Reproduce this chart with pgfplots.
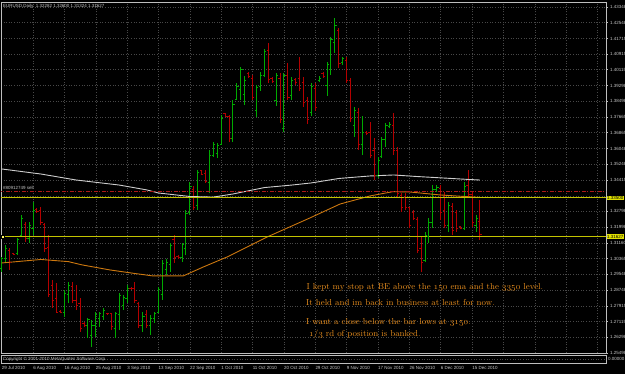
\documentclass[border=0pt]{standalone}
\usepackage{pgfplots}
\usepackage{pgfplotstable}
\pgfplotsset{compat=1.18}
\usepackage{fontspec}
\newfontfamily\mtfont{Liberation Sans}
\definecolor{bull}{RGB}{0,170,0}
\definecolor{bear}{RGB}{180,0,0}
\definecolor{gridc}{RGB}{72,72,72}
\definecolor{axc}{RGB}{190,190,190}
\definecolor{lbl}{RGB}{200,200,200}
\definecolor{emaw}{RGB}{205,205,205}
\definecolor{emao}{RGB}{205,120,15}
\definecolor{hyel}{RGB}{195,195,0}
\definecolor{ybox}{RGB}{225,225,0}
\definecolor{sellc}{RGB}{170,25,25}
\definecolor{annot}{RGB}{232,142,30}
\newcommand{\lblfont}{\mtfont\fontsize{4.5}{5}\selectfont}
\newcommand{\annfont}{\fontsize{8.7}{10}\selectfont}
\newcommand{\osn}[1]{{\usefont{OML}{cmm}{m}{it}#1}}
\pgfdeclareplotmark{otick}{\pgfpathmoveto{\pgfqpoint{-1.7bp}{0pt}}\pgfpathlineto{\pgfqpoint{0pt}{0pt}}\pgfusepathqstroke}
\pgfdeclareplotmark{ctick}{\pgfpathmoveto{\pgfqpoint{0pt}{0pt}}\pgfpathlineto{\pgfqpoint{1.7bp}{0pt}}\pgfusepathqstroke}

\pgfplotstableread{
i o h l c
0 1.2988 1.3045 1.2967 1.3035
1 1.3035 1.3107 1.3019 1.3091
4 1.3065 1.3143 1.3055 1.3133
5 1.3158 1.3262 1.3148 1.3246
7 1.3143 1.3225 1.3117 1.3210
8 1.3194 1.3329 1.3158 1.3287
16 1.2761 1.2875 1.2735 1.2859
17 1.2854 1.2916 1.2807 1.2900
22 1.2689 1.2730 1.2627 1.2720
23 1.2642 1.2720 1.2580 1.2694
24 1.2694 1.2761 1.2632 1.2746
25 1.2730 1.2761 1.2684 1.2751
26 1.2740 1.2782 1.2720 1.2771
29 1.2678 1.2761 1.2627 1.2751
30 1.2746 1.2859 1.2668 1.2844
31 1.2797 1.2849 1.2771 1.2838
32 1.2833 1.2900 1.2807 1.2885
36 1.2689 1.2761 1.2658 1.2740
38 1.2689 1.2746 1.2642 1.2730
39 1.2730 1.2761 1.2704 1.2751
40 1.2761 1.2890 1.2756 1.2875
41 1.2849 1.3029 1.2823 1.3009
42 1.2978 1.3035 1.2952 1.3019
43 1.3004 1.3117 1.2967 1.3102
46 1.3040 1.3117 1.3019 1.3107
47 1.3091 1.3287 1.3055 1.3272
48 1.3277 1.3432 1.3262 1.3411
50 1.3313 1.3494 1.3287 1.3483
53 1.3432 1.3597 1.3375 1.3571
54 1.3571 1.3638 1.3561 1.3623
55 1.3581 1.3633 1.3556 1.3618
56 1.3628 1.3778 1.3623 1.3762
59 1.3659 1.3855 1.3638 1.3834
60 1.3860 1.3943 1.3855 1.3927
61 1.3907 1.4025 1.3855 1.4010
62 1.3881 1.3979 1.3829 1.3958
65 1.3803 1.3932 1.3767 1.3922
66 1.3927 1.3999 1.3902 1.3984
67 1.3984 1.4118 1.3974 1.4103
70 1.3855 1.3994 1.3824 1.3979
72 1.3710 1.3994 1.3690 1.3979
74 1.3876 1.3974 1.3855 1.3958
79 1.3793 1.3943 1.3772 1.3927
81 1.3958 1.3979 1.3948 1.3968
83 1.3932 1.4051 1.3876 1.4036
84 1.4010 1.4180 1.3984 1.4165
85 1.4154 1.4278 1.4097 1.4242
87 1.4051 1.4077 1.4036 1.4067
90 1.3726 1.3819 1.3664 1.3803
92 1.3623 1.3772 1.3571 1.3690
96 1.3468 1.3561 1.3452 1.3545
97 1.3566 1.3664 1.3556 1.3649
98 1.3649 1.3736 1.3612 1.3721
99 1.3716 1.3741 1.3710 1.3731
108 1.3029 1.3174 1.3019 1.3158
109 1.3153 1.3246 1.3117 1.3225
110 1.3225 1.3416 1.3194 1.3391
111 1.3391 1.3416 1.3380 1.3406
114 1.3210 1.3329 1.3174 1.3313
118 1.3194 1.3432 1.3184 1.3411
121 1.3210 1.3262 1.3174 1.3246
}\bulltab

\pgfplotstableread{
i o h l c
2 1.3081 1.3091 1.2978 1.3019
3 1.3065 1.3067 1.3055 1.3060
6 1.3215 1.3225 1.3122 1.3143
9 1.3292 1.3298 1.3272 1.3282
10 1.3287 1.3303 1.3210 1.3225
11 1.3215 1.3220 1.3071 1.3091
12 1.3096 1.3158 1.2838 1.2849
13 1.2900 1.2926 1.2782 1.2823
14 1.2833 1.2911 1.2756 1.2761
15 1.2766 1.2771 1.2756 1.2761
18 1.2895 1.2916 1.2807 1.2823
19 1.2823 1.2900 1.2771 1.2797
20 1.2807 1.2833 1.2658 1.2678
21 1.2704 1.2709 1.2684 1.2694
27 1.2755 1.2758 1.2746 1.2751
28 1.2751 1.2756 1.2668 1.2684
33 1.2885 1.2890 1.2875 1.2880
34 1.2880 1.2916 1.2807 1.2823
35 1.2807 1.2813 1.2678 1.2694
37 1.2746 1.2771 1.2678 1.2694
44 1.3133 1.3158 1.3014 1.3040
45 1.3050 1.3055 1.3035 1.3040
49 1.3391 1.3411 1.3287 1.3298
51 1.3489 1.3494 1.3468 1.3473
52 1.3478 1.3494 1.3427 1.3437
57 1.3783 1.3788 1.3767 1.3772
58 1.3772 1.3778 1.3638 1.3659
63 1.3994 1.3999 1.3968 1.3974
64 1.3968 1.3984 1.3855 1.3870
68 1.4113 1.4149 1.3943 1.3963
69 1.3968 1.3974 1.3943 1.3953
71 1.3968 1.3994 1.3736 1.3752
73 1.3984 1.4046 1.3855 1.3870
75 1.3963 1.3968 1.3932 1.3943
76 1.3968 1.4077 1.3901 1.3917
77 1.3948 1.3974 1.3819 1.3840
78 1.3855 1.3870 1.3731 1.3752
80 1.3917 1.3943 1.3798 1.3819
82 1.3994 1.3999 1.3968 1.3974
86 1.4216 1.4226 1.4020 1.4046
88 1.4061 1.4077 1.3943 1.3958
89 1.3958 1.3968 1.3741 1.3762
91 1.3793 1.3814 1.3597 1.3623
93 1.3690 1.3693 1.3674 1.3680
94 1.3690 1.3741 1.3556 1.3571
95 1.3597 1.3659 1.3442 1.3463
100 1.3726 1.3788 1.3571 1.3597
101 1.3597 1.3612 1.3354 1.3375
102 1.3360 1.3375 1.3277 1.3298
103 1.3354 1.3375 1.3287 1.3303
104 1.3298 1.3303 1.3194 1.3210
105 1.3277 1.3287 1.3236 1.3246
106 1.3236 1.3251 1.3065 1.3081
107 1.3091 1.3148 1.2967 1.3019
112 1.3401 1.3416 1.3236 1.3277
113 1.3287 1.3380 1.3194 1.3210
115 1.3308 1.3324 1.3158 1.3184
116 1.3277 1.3287 1.3174 1.3194
117 1.3200 1.3205 1.3189 1.3194
119 1.3416 1.3494 1.3354 1.3365
120 1.3365 1.3380 1.3200 1.3225
122 1.3228 1.3339 1.3132 1.3163
}\beartab

\begin{document}
\begin{tikzpicture}
\fill[black] (0,0) rectangle (625bp,374bp);
\useasboundingbox (0,0) rectangle (625bp,374bp);

\begin{axis}[
  at={(1bp,21bp)}, anchor=south west, scale only axis,
  width=605bp, height=351bp,
  xmin=-0.18, xmax=154.16, ymin=1.25494, ymax=1.43606,
  axis background/.style={fill=black},
  axis line style={axc, line width=0.6bp},
  xtick={0,8,...,152}, xticklabels={}, xtick style={draw=none},
  ytick={1.25498,1.26298,1.27115,1.27915,1.28748,1.29548,1.30365,1.31160,1.31998,1.32798,1.33598,1.34415,1.35248,1.36048,1.36865,1.37665,1.38498,1.39298,1.40115,1.40915,1.41715,1.42548,1.43348},
  yticklabels={1.25498,1.26298,1.27115,1.27915,1.28748,1.29548,1.30365,1.31160,1.31998,1.32798,,1.34415,1.35248,1.36048,1.36865,1.37665,1.38498,1.39298,1.40115,1.40915,1.41715,1.42548,1.43348},
  ytick pos=right, yticklabel pos=right,
  ytick style={axc, line width=0.5bp}, tick align=outside, major tick length=2bp,
  yticklabel style={font=\lblfont, text=lbl, anchor=west, inner sep=0pt, xshift=2bp},
  grid=major, grid style={gridc, line width=0.5bp, dash pattern=on 1bp off 1.6bp},
]
% high-low lines
\addplot[draw=none, mark=none, forget plot, error bars/.cd, y dir=plus, y explicit, error mark=none, error bar style={draw=bull, line width=1bp}]
  table[x=i, y=l, y error expr=\thisrow{h}-\thisrow{l}] {\bulltab};
\addplot[draw=none, mark=none, forget plot, error bars/.cd, y dir=plus, y explicit, error mark=none, error bar style={draw=bear, line width=1bp}]
  table[x=i, y=l, y error expr=\thisrow{h}-\thisrow{l}] {\beartab};
% open/close ticks
\addplot[only marks, mark=otick, bull, mark options={line width=0.9bp}] table[x=i, y=o] {\bulltab};
\addplot[only marks, mark=ctick, bull, mark options={line width=0.9bp}] table[x=i, y=c] {\bulltab};
\addplot[only marks, mark=otick, bear, mark options={line width=0.9bp}] table[x=i, y=o] {\beartab};
\addplot[only marks, mark=ctick, bear, mark options={line width=0.9bp}] table[x=i, y=c] {\beartab};
% moving averages
\addplot[emaw, line width=0.9bp] coordinates {(0,1.3499) (10,1.3473) (19,1.3442) (30,1.3416) (37,1.3391) (40,1.3375) (48,1.3357) (54,1.3354) (59,1.3370) (67,1.3403) (74,1.3416) (79,1.3427) (86,1.3450) (94,1.3463) (100,1.3468) (106,1.3460) (113,1.3452) (119,1.3445) (122,1.3442)};
\addplot[emao, line width=0.9bp] coordinates {(0,1.3014) (10,1.3032) (17,1.3021) (20.5,1.3004) (27.6,1.2978) (33.5,1.2961) (38.6,1.2947) (46.3,1.2947) (51.4,1.2993) (57.5,1.3045) (67.7,1.3148) (78.6,1.3246) (86.3,1.3318) (94,1.3360) (99.8,1.3382) (104.2,1.3380) (111.8,1.3365) (122,1.3352)};
% horizontal levels
\addplot[sellc, line width=0.7bp, dash pattern=on 4bp off 1.5bp on 1bp off 1.5bp] coordinates {(-1,1.3382) (160,1.3382)};
\addplot[hyel, line width=0.8bp] coordinates {(-1,1.3350) (160,1.3350)};
\addplot[hyel, line width=0.8bp] coordinates {(-1,1.3150) (160,1.3150)};
\addplot[only marks, mark=square*, mark size=1.3bp, mark options={fill=yellow!60!white, draw=none}] coordinates {(0.3,1.3150)};
\end{axis}

\begin{axis}[
  at={(1bp,11bp)}, anchor=south west, scale only axis,
  width=605bp, height=8bp,
  xmin=-0.18, xmax=154.16, ymin=-1, ymax=1,
  axis background/.style={fill=black},
  axis line style={axc, line width=0.6bp},
  ytick=\empty,
  xtick={0,8,...,120},
  xticklabels={29 Jul 2010,6 Aug 2010,16 Aug 2010,25 Aug 2010,3 Sep 2010,13 Sep 2010,22 Sep 2010,1 Oct 2010,11 Oct 2010,20 Oct 2010,29 Oct 2010,9 Nov 2010,17 Nov 2010,26 Nov 2010,6 Dec 2010,15 Dec 2010},
  xtick pos=bottom, tick align=outside, major tick length=1.5bp,
  xtick style={axc, line width=0.5bp},
  xticklabel style={font=\lblfont, text=lbl, anchor=north west, inner sep=0pt, yshift=-1.5bp},
]
\addplot[gridc, line width=0.5bp, dash pattern=on 1bp off 1.6bp] coordinates {(-1,0) (160,0)};
\end{axis}

% texts
\node[anchor=west, inner sep=0pt, font=\lblfont, text=lbl] at (3bp,368bp) {EURUSD,Daily\ \ 1.32282 1.32600 1.31324 1.31627};
\node[anchor=west, inner sep=0pt, font=\lblfont, text=lbl] at (3bp,186.5bp) {\#80912749 sell};
\node[anchor=west, inner sep=0.5bp, fill=ybox, font=\lblfont, text=black] at (606.5bp,176bp) {1.33500};
\node[anchor=west, inner sep=0.5bp, fill=ybox, font=\lblfont, text=black] at (606.5bp,137.5bp) {1.31627};
\node[anchor=west, inner sep=0pt, font=\lblfont, text=lbl] at (3bp,15bp) {Copyright \copyright{} 2001-2010 MetaQuotes Software Corp.};
\node[anchor=west, inner sep=0pt, font=\lblfont, text=lbl] at (608bp,15bp) {0.00000};

\node[anchor=base west, inner sep=0pt, text=annot, font=\annfont] at (306.5bp,84.7bp) {I kept my stop at BE above the \osn{150} ema and the \osn{3350} level.};
\node[anchor=base west, inner sep=0pt, text=annot, font=\annfont] at (306bp,68bp) {It held and im back in business at least for now.};
\node[anchor=base west, inner sep=0pt, text=annot, font=\annfont] at (306bp,49bp) {I want a close below the bar lows at \osn{3150}.};
\node[anchor=base west, inner sep=0pt, text=annot, font=\annfont] at (309bp,37.3bp) {\osn{1}/\osn{3} rd of position is banked.};
\end{tikzpicture}
\end{document}
